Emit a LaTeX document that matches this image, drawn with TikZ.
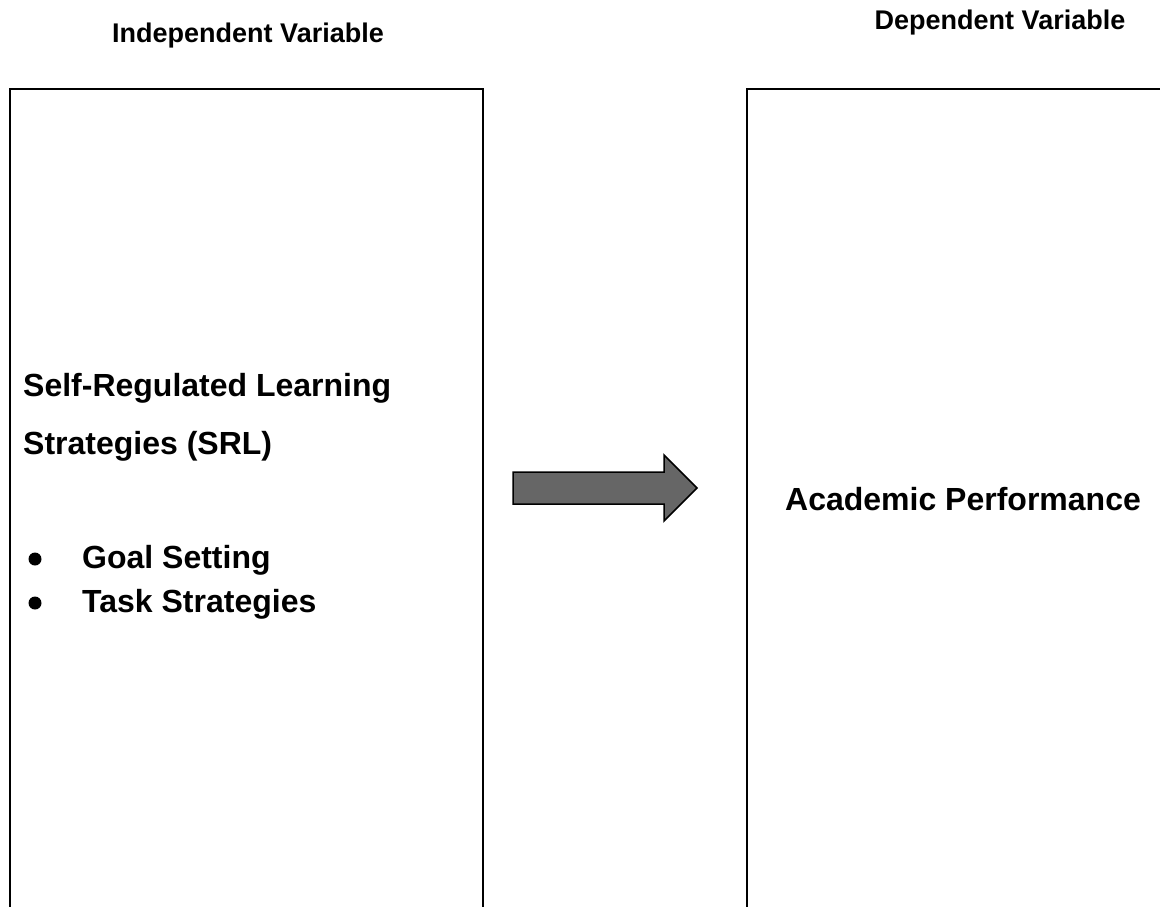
\documentclass[tikz,border=0pt]{standalone}
\usepackage{fontspec}
\setmainfont{Liberation Sans}
\begin{document}
\begin{tikzpicture}[x=1pt,y=-1pt,
  varbox/.style={draw=black, line width=2.2pt, fill=none},
  heading/.style={font=\bfseries\fontsize{27}{32}\selectfont, inner sep=0pt, anchor=base},
  bodytext/.style={font=\bfseries\fontsize{32}{38}\selectfont, inner sep=0pt, anchor=base west},
  bulletdot/.style={circle, fill=black, inner sep=0pt, minimum size=13pt},
  bigarrow/.style={draw=black, line width=1.5pt, fill=black!60, line join=miter}]
\clip (0,0) rectangle (1160,906);

% Column headings
\node[heading] (ivhead) at (248,42) {Independent Variable};
\node[heading] (dvhead) at (1000,29) {Dependent Variable};

% Variable boxes (they run past the lower and right edges)
\draw[varbox] (10,960) -- (10,89) -- (483,89) -- (483,960);
\draw[varbox] (747,960) -- (747,89) -- (1200,89);

% Independent variable contents
\node[bodytext] (srl1) at (23,396) {Self-Regulated Learning};
\node[bodytext] (srl2) at (23,454) {Strategies (SRL)};
\node[bulletdot] (b1) at (35,559) {};
\node[bodytext] (goal) at (82,568) {Goal Setting};
\node[bulletdot] (b2) at (35,603) {};
\node[bodytext] (task) at (82,612) {Task Strategies};

% Dependent variable contents
\node[bodytext] (perf) at (785,510) {Academic Performance};

% Block arrow between the two boxes
\draw[bigarrow] (513,472) -- (664,472) -- (664,455) -- (697,488)
  -- (664,521) -- (664,504) -- (513,504) -- cycle;
\end{tikzpicture}
\end{document}
